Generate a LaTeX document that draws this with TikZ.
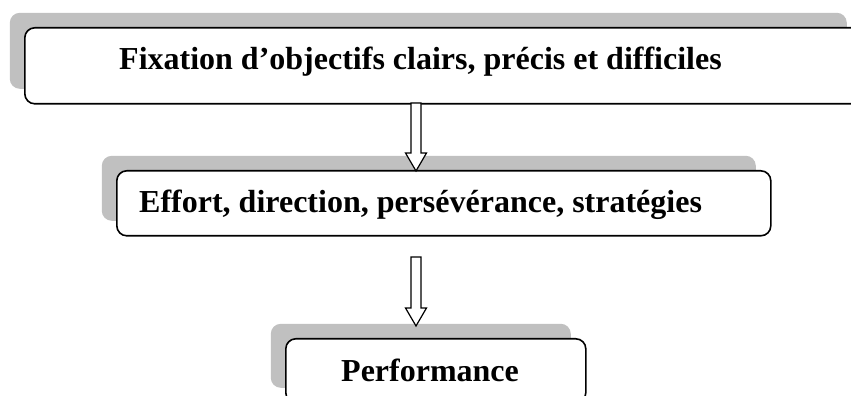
\documentclass[tikz,border=0pt]{standalone}
\usepackage{fontspec}
\setmainfont{Liberation Serif}
\usetikzlibrary{shadows,calc}
\definecolor{shadowgray}{HTML}{C0C0C0}
\tikzset{
  box/.style={draw=black, line width=1.6pt, rounded corners=10pt, fill=white,
    anchor=north west, inner sep=0pt,
    general shadow={fill=shadowgray, draw=none, shadow xshift=-15pt, shadow yshift=15pt}},
  boxtext/.style={anchor=base west, inner sep=0pt, font=\bfseries\fontsize{32}{37}\selectfont},
  arrowline/.style={draw=black, line width=1.2pt, fill=white, line join=miter}
}
% open block arrow from #1 (top of shaft) down to #2 (tip)
\newcommand{\blockarrow}[2]{%
  \draw[arrowline] let \p1=(#1), \p2=(#2) in
    (\x1-5pt,\y1) -- (\x1-5pt,\y2+18pt) -- (\x1-10.5pt,\y2+18pt) -- (\x2,\y2)
    -- (\x1+10.5pt,\y2+18pt) -- (\x1+5pt,\y2+18pt) -- (\x1+5pt,\y1) -- cycle;}
\begin{document}
\begin{tikzpicture}[x=1pt,y=1pt]
\useasboundingbox (0,0) rectangle (851,396);
\clip (0,0) rectangle (851,396);

% boxes
\node[box, minimum width=837pt, minimum height=76pt] (b1) at (24,369) {};
\node[box, minimum width=654pt, minimum height=65pt] (b2) at (116,226) {};
\node[box, minimum width=300pt, minimum height=64pt] (b3) at (285,58) {};

% labels
\node[boxtext] (t1) at (119,326) {Fixation d’objectifs clairs, précis et difficiles};
\node[boxtext] (t2) at (139,183) {Effort, direction, persévérance, stratégies};
\node[boxtext] (t3) at (341,14) {Performance};

% arrows
\coordinate (a1s) at (416,293);
\coordinate (a1e) at (416,225);
\coordinate (a2s) at (416,139);
\coordinate (a2e) at (416,70);
\blockarrow{a1s}{a1e}
\blockarrow{a2s}{a2e}
\end{tikzpicture}
\end{document}
